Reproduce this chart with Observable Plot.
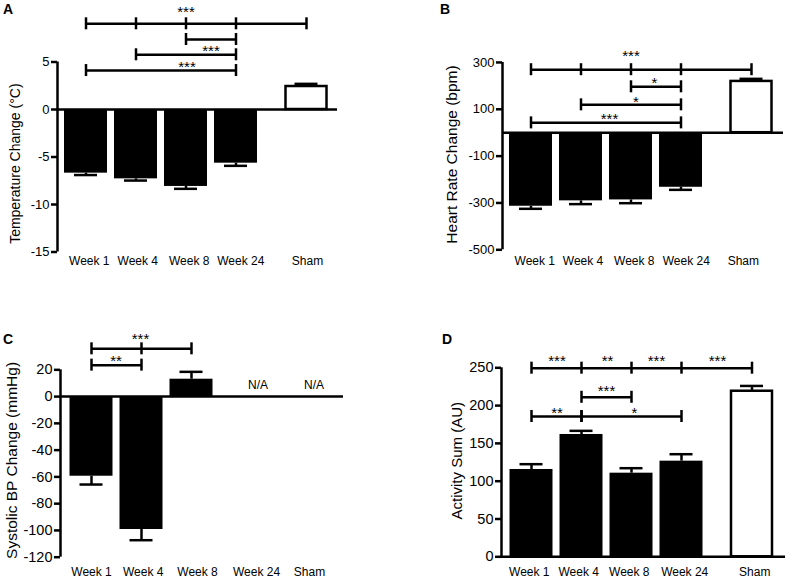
<!DOCTYPE html>
<html><head><meta charset="utf-8">
<script src="https://cdn.jsdelivr.net/npm/d3@7"></script>
<script src="https://cdn.jsdelivr.net/npm/@observablehq/plot@0.6"></script>
<style>
body{margin:0;background:#fff;}
#fig{position:relative;width:789px;height:585px;font-family:"Liberation Sans",Arial,sans-serif;background:#fff;overflow:hidden;}
.panel{position:absolute;}
.panel svg{font-family:"Liberation Sans",Arial,sans-serif;}
.tag{position:absolute;font-weight:bold;font-size:14px;line-height:1;}
</style></head><body><div id="fig"></div>
<script>
const groups = ["Week 1", "Week 4", "Week 8", "Week 24", "Sham"];

// Panel A: temperature change (°C)
const tempMean = [-6.7, -7.3, -8.1, -5.65, 2.42];
const tempSem  = [0.2, 0.18, 0.25, 0.28, 0.28];
const tempTicks = [-15, -10, -5, 0, 5];
// Panel B: heart rate change (bpm)
const hrMean = [-314, -291, -287, -233, 219];
const hrSem  = [11, 14, 14, 11, 11];
const hrTicks = [-500, -300, -100, 100, 300];
// Panel C: systolic BP change (mmHg)
const bpMean = [-59.5, -99.3, 13, null, null];
const bpSem  = [6.2, 8, 5.5, null, null];
const bpTicks = [-120, -100, -80, -60, -40, -20, 0, 20];
// Panel D: activity sum (AU)
const actMean = [115.5, 161.8, 110.6, 126.5, 219];
const actSem  = [7, 4.8, 6.6, 9.2, 7];
const actTicks = [0, 50, 100, 150, 200, 250];

// significance brackets (level in data units) and star labels
const sigA = [
  {from: "Week 1", to: "Sham", y: 9.02, ticks: groups},
  {from: "Week 8", to: "Week 24", y: 7.37},
  {from: "Week 4", to: "Week 24", y: 5.76},
  {from: "Week 1", to: "Week 24", y: 4.1}
];
const starsA = [
  {t: "***", x: 2, y: 10.68},
  {t: "***", x: 2.5, y: 6.56},
  {t: "***", x: 2.02, y: 4.86}
];
const sigB = [
  {from: "Week 1", to: "Sham", y: 269, ticks: groups},
  {from: "Week 8", to: "Week 24", y: 196},
  {from: "Week 4", to: "Week 24", y: 119},
  {from: "Week 1", to: "Week 24", y: 42}
];
const starsB = [
  {t: "***", x: 2, y: 344},
  {t: "*", x: 2.47, y: 227},
  {t: "*", x: 2.1, y: 148},
  {t: "***", x: 1.57, y: 73}
];
const sigC = [
  {from: "Week 1", to: "Week 8", y: 35.7, ticks: ["Week 1", "Week 4", "Week 8"]},
  {from: "Week 1", to: "Week 4", y: 23.5}
];
const starsC = [
  {t: "***", x: 0.98, y: 46.2},
  {t: "**", x: 0.49, y: 29.4}
];
const sigD = [
  {from: "Week 1", to: "Sham", y: 249.5, ticks: groups},
  {from: "Week 4", to: "Week 8", y: 211},
  {from: "Week 1", to: "Week 4", y: 185.6},
  {from: "Week 4", to: "Week 24", y: 185.6}
];
const starsD = [
  {t: "***", x: 0.51, y: 263.9},
  {t: "**", x: 1.52, y: 263.9},
  {t: "***", x: 2.5, y: 263.9},
  {t: "***", x: 3.72, y: 263.9},
  {t: "***", x: 1.5, y: 224},
  {t: "**", x: 0.51, y: 195.8},
  {t: "*", x: 2.06, y: 195.8}
];

// layout: slot of each group along x (Sham set apart), and of each category label
const slotsMain = [0, 1, 2, 3, 4.41];
const slotsC = [0, 1, 2, 3.33, 4.45];
const labelSlotsA = [0.066, 1.036, 2.064, 3.096, 4.43];
const labelSlotsB = [0.076, 1.04, 2.066, 3.106, 4.246];
const labelSlotsC = [0, 1.034, 2.12, 3.3, 4.36];
const labelSlotsD = [-0.044, 0.944, 1.956, 3.064, 4.464];

function panel(cfg) {
  const pos = g => cfg.slots[groups.indexOf(g)];
  const rows = groups.map((g, i) => ({g, x: cfg.slots[i], v: cfg.mean[i], e: cfg.sem[i]}));
  const bars = rows.filter(d => d.v != null);
  const missing = rows.filter(d => d.v == null);
  const end = d => d.v + Math.sign(d.v) * d.e;
  const tickRows = cfg.sig.flatMap(b => (b.ticks || [b.from, b.to]).map(g => ({x: pos(g), y: b.y})));
  const x0 = cfg.xDomain[0];
  const lw = 2.5;
  return Plot.plot({
    width: cfg.width, height: cfg.height,
    marginTop: cfg.m[0], marginRight: cfg.m[1], marginBottom: cfg.m[2], marginLeft: cfg.m[3],
    style: `font-family: "Liberation Sans", Arial, sans-serif; font-size: ${cfg.tickFont}px; color: black; background: white; overflow: visible;`,
    x: {type: "linear", domain: cfg.xDomain},
    y: {type: "linear", domain: cfg.yDomain},
    marks: [
      Plot.rect(bars.filter(d => d.g !== "Sham"), {x1: d => d.x - 0.43, x2: d => d.x + 0.43, y1: 0, y2: "v", fill: "black"}),
      Plot.rect(bars.filter(d => d.g === "Sham"), {x1: d => d.x - 0.41, x2: d => d.x + 0.41, y1: 0, y2: "v", fill: "white", stroke: "black", strokeWidth: lw}),
      Plot.ruleX(bars, {x: "x", y1: "v", y2: end, stroke: "black", strokeWidth: lw}),
      Plot.ruleY(bars, {y: end, x1: d => d.x - 0.23, x2: d => d.x + 0.23, stroke: "black", strokeWidth: lw}),
      Plot.ruleY([0], {stroke: "black", strokeWidth: lw}),
      Plot.ruleX([x0], {y1: cfg.yTicks[0], y2: cfg.yTicks[cfg.yTicks.length - 1], stroke: "black", strokeWidth: lw}),
      Plot.axisY({ticks: cfg.yTicks, tickFormat: d => String(d), tickSize: 6, tickPadding: 2, strokeWidth: lw, label: null, fontSize: cfg.tickFont}),
      Plot.axisX({ticks: cfg.labelSlots, tickFormat: d => groups[cfg.labelSlots.indexOf(d)], tickSize: 0, tickPadding: cfg.xPad, label: null, fontSize: 12}),
      Plot.text([cfg.title], {x: x0, y: cfg.titleY, text: d => d, rotate: -90, dx: cfg.titleDx, fontSize: cfg.titleFont}),
      Plot.ruleY(cfg.sig, {y: "y", x1: d => pos(d.from), x2: d => pos(d.to), stroke: "black", strokeWidth: lw}),
      Plot.ruleX(tickRows, {x: "x", y1: "y", y2: "y", insetTop: -6, insetBottom: -6, stroke: "black", strokeWidth: lw}),
      Plot.text(cfg.stars, {x: "x", y: "y", text: "t", fontSize: 15, dy: 4}),
      Plot.text(missing, {x: "x", y: cfg.naY, text: () => "N/A", fontSize: 12})
    ]
  });
}

const fig = document.getElementById("fig");
function place(el, left, top) {
  const wrap = document.createElement("div");
  wrap.className = "panel";
  wrap.style.left = left + "px";
  wrap.style.top = top + "px";
  wrap.appendChild(el);
  fig.appendChild(wrap);
}
function tag(txt, left, top) {
  const t = document.createElement("div");
  t.className = "tag";
  t.textContent = txt;
  t.style.left = left + "px";
  t.style.top = top + "px";
  fig.appendChild(t);
}

place(panel({
  mean: tempMean, sem: tempSem, yTicks: tempTicks, slots: slotsMain, labelSlots: labelSlotsA, sig: sigA, stars: starsA,
  width: 395, height: 290, m: [4.5, 58, 38.5, 57],
  xDomain: [-0.57, 5.03], yDomain: [-15, 11],
  title: "Temperature Change (°C)", titleY: -5.7, titleDx: -42, titleFont: 14, tickFont: 13, xPad: 4, naY: 0
}), 0, 0);

place(panel({
  mean: hrMean, sem: hrSem, yTicks: hrTicks, slots: slotsMain, labelSlots: labelSlotsB, sig: sigB, stars: starsB,
  width: 394, height: 290, m: [3.4, 6, 40.7, 107],
  xDomain: [-0.57, 5.05], yDomain: [-500, 550],
  title: "Heart Rate Change (bpm)", titleY: -93, titleDx: -50, titleFont: 15.5, tickFont: 13, xPad: 6.5, naY: 0
}), 395, 0);

place(panel({
  mean: bpMean, sem: bpSem, yTicks: bpTicks, slots: slotsC, labelSlots: labelSlotsC, sig: sigC, stars: starsC,
  width: 395, height: 295, m: [25.8, 52, 28.3, 60],
  xDomain: [-0.62, 5.04], yDomain: [-120, 60],
  title: "Systolic BP Change (mmHg)", titleY: -47.7, titleDx: -48, titleFont: 15.5, tickFont: 14.5, xPad: 10.5, naY: 8.8
}), 0, 290);

place(panel({
  mean: actMean, sem: actSem, yTicks: actTicks, slots: slotsMain, labelSlots: labelSlotsD, sig: sigD, stars: starsD,
  width: 394, height: 295, m: [39.5, 4, 28.7, 106],
  xDomain: [-0.6, 5.08], yDomain: [0, 300],
  title: "Activity Sum (AU)", titleY: 127, titleDx: -44, titleFont: 15, tickFont: 14.5, xPad: 10.5, naY: 0
}), 395, 290);

tag("A", 3, 2);
tag("B", 440, 1.7);
tag("C", 3, 331.7);
tag("D", 442, 332);
</script>
</body></html>
